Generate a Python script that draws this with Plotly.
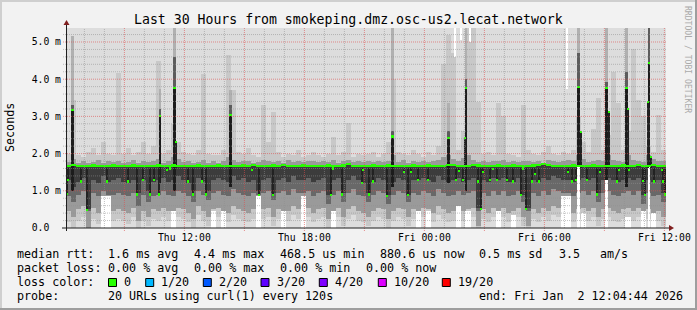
import numpy as np
import pandas as pd
import plotly.graph_objects as go

FONT = "DejaVu Sans Mono"
START = pd.Timestamp("2026-01-01 06:04:44")
END = pd.Timestamp("2026-01-02 12:04:44")
STEP_MIN = 15          # one smoke column = 15 minutes
Y_TOP = 5.376          # ms

# ---------------- data (values in milliseconds) ----------------
# median rtt per 15-minute column
median = [
    1.66, 1.69, 1.67, 1.66, 1.67, 1.68, 1.67, 1.66, 1.67, 1.68,
    1.67, 1.66, 1.67, 1.68, 1.67, 1.66, 1.67, 1.67, 1.68, 1.66,
    1.67, 1.68, 1.67, 1.66, 1.67, 1.67, 1.68, 1.67, 1.66, 1.67,
    1.68, 1.67, 1.67, 1.66, 1.67, 1.68, 1.67, 1.70, 1.67, 1.66,
    1.67, 1.68, 1.67, 1.70, 1.67, 1.66, 1.67, 1.68, 1.67, 1.66,
    1.67, 1.66, 1.68, 1.67, 1.67, 1.68, 1.71, 1.67, 1.66, 1.67,
    1.67, 1.68, 1.66, 1.67, 1.68, 1.67, 1.66, 1.67, 1.67, 1.68,
    1.66, 1.67, 1.68, 1.67, 1.66, 1.67, 1.70, 1.69, 1.67, 1.67,
    1.67, 1.70, 1.68, 1.67, 1.66, 1.67, 1.68, 1.66, 1.67, 1.68,
    1.67, 1.66, 1.67, 1.68, 1.70, 1.71, 1.70, 1.67, 1.66, 1.67,
    1.67, 1.68, 1.67, 1.66, 1.67, 1.68, 1.67, 1.66, 1.67, 1.66,
    1.67, 1.68, 1.66, 1.67, 1.70, 1.67, 1.66, 1.69, 1.67, 1.66,
]
# lowest ping (white canvas below)
smoke_lo_a = [
    0, 0, 0, 0, 0, 0, 0, 0.85, 0.85, 0,
    0, 0, 0, 0, 0, 0, 0, 0, 0, 0,
    0, 0.45, 0, 0, 0, 0, 0, 0, 0, 0.45,
    0, 0.45, 0, 0, 0, 0, 0, 0, 0.85, 0,
    0, 0, 0, 0.45, 0, 0, 0, 0.85, 0, 0,
    0, 0, 0, 0.45, 0, 0, 0, 0, 0, 0,
    0, 0, 0, 0, 0, 0, 0, 0, 0, 0,
    0.45, 0, 0.45, 0, 0, 0, 0, 0, 0.60, 0,
    0.45, 0, 0, 0, 0, 0, 0.45, 0, 0, 0.35,
    0, 0, 0, 0, 0, 0, 0, 0, 0, 0.85,
    0.85, 0, 0, 0.40, 0, 0, 0, 0, 0, 0,
    0, 0, 0.30, 0, 0, 0.45, 0, 0.40, 0, 0,
]
smoke_lo_b = [
    0.15, 0.00, 0.20, 0.30, 0.00, 0.25, 0.10, 0.85, 0.85, 0.20,
    0.25, 0.20, 0.10, 0.30, 0.00, 0.20, 0.05, 0.25, 0.20, 0.30,
    0.20, 0.45, 0.30, 0.25, 0.15, 0.00, 0.35, 0.20, 0.05, 0.45,
    0.30, 0.45, 0.15, 0.35, 0.25, 0.20, 0.15, 0.25, 0.85, 0.25,
    0.30, 0.05, 0.25, 0.45, 0.20, 0.35, 0.25, 0.85, 0.30, 0.15,
    0.25, 0.30, 0.00, 0.45, 0.30, 0.05, 0.25, 0.35, 0.20, 0.15,
    0.05, 0.20, 0.30, 0.25, 0.00, 0.20, 0.30, 0.25, 0.05, 0.25,
    0.45, 0.30, 0.45, 0.15, 0.35, 0.25, 0.15, 0.20, 0.60, 0.20,
    0.45, 0.30, 0.00, 0.25, 0.15, 0.30, 0.45, 0.30, 0.15, 0.35,
    0.30, 0.05, 0.00, 0.25, 0.15, 0.30, 0.20, 0.35, 0.30, 0.85,
    0.85, 0.15, 0.25, 0.40, 0.20, 0.30, 0.05, 0.25, 0.30, 0.20,
    0.15, 0.25, 0.30, 0.20, 0.30, 0.45, 0.25, 0.40, 0.20, 0.05,
]
smoke_lo_c = [
    0.45, 0.30, 0.50, 0.60, 0.00, 0.55, 0.40, 0.85, 0.85, 0.45,
    0.50, 0.45, 0.40, 0.55, 0.20, 0.45, 0.30, 0.50, 0.45, 0.55,
    0.45, 0.45, 0.55, 0.50, 0.40, 0.25, 0.60, 0.45, 0.30, 0.50,
    0.55, 0.45, 0.40, 0.60, 0.50, 0.45, 0.40, 0.50, 0.85, 0.50,
    0.55, 0.30, 0.50, 0.45, 0.45, 0.60, 0.50, 0.85, 0.55, 0.40,
    0.50, 0.55, 0.25, 0.45, 0.55, 0.30, 0.50, 0.60, 0.45, 0.40,
    0.30, 0.45, 0.55, 0.50, 0.25, 0.45, 0.55, 0.50, 0.30, 0.50,
    0.45, 0.55, 0.50, 0.40, 0.60, 0.50, 0.40, 0.45, 0.60, 0.45,
    0.50, 0.55, 0.05, 0.50, 0.40, 0.55, 0.45, 0.55, 0.40, 0.45,
    0.55, 0.30, 0.05, 0.50, 0.40, 0.55, 0.45, 0.60, 0.55, 0.85,
    0.85, 0.40, 0.50, 0.55, 0.45, 0.55, 0.30, 0.50, 0.55, 0.45,
    0.40, 0.50, 0.55, 0.45, 0.55, 0.45, 0.50, 0.40, 0.45, 0.30,
]
smoke_lo_d = [
    0.85, 0.70, 0.90, 1.00, 0.45, 0.95, 0.85, 1.00, 0.90, 0.90,
    0.95, 0.90, 0.85, 0.95, 0.60, 0.90, 0.70, 0.85, 0.90, 1.00,
    0.90, 0.85, 1.00, 0.95, 0.85, 0.70, 1.00, 0.90, 0.75, 0.95,
    1.00, 0.90, 0.85, 1.05, 0.95, 0.90, 0.85, 0.95, 0.90, 0.95,
    1.00, 0.75, 0.95, 1.00, 0.90, 1.05, 0.95, 0.95, 1.00, 0.85,
    0.95, 1.00, 0.65, 0.90, 1.00, 0.70, 0.95, 1.05, 0.90, 0.85,
    0.70, 0.90, 1.00, 0.95, 0.65, 0.90, 1.00, 0.95, 0.70, 0.95,
    0.90, 1.00, 0.95, 0.85, 1.05, 0.95, 0.85, 0.90, 1.00, 0.90,
    0.95, 1.00, 0.45, 0.95, 0.85, 1.00, 0.90, 1.00, 0.85, 0.90,
    1.00, 0.70, 0.45, 0.95, 0.85, 1.00, 0.90, 1.05, 1.00, 0.95,
    0.95, 0.85, 0.95, 1.00, 0.90, 1.00, 0.70, 0.95, 1.00, 0.90,
    0.85, 0.95, 1.00, 0.90, 1.00, 0.65, 0.95, 0.85, 0.90, 0.70,
]
smoke_lo_e = [
    1.30, 1.10, 1.25, 1.35, 0.50, 1.30, 1.20, 1.40, 1.25, 1.30,
    1.35, 1.25, 1.20, 1.30, 0.95, 1.30, 1.00, 1.25, 1.30, 1.35,
    1.25, 1.30, 1.40, 1.30, 1.20, 1.00, 1.35, 1.25, 1.00, 1.30,
    1.35, 1.30, 1.25, 1.40, 1.30, 1.35, 1.25, 1.30, 1.00, 1.30,
    1.35, 0.95, 1.30, 1.35, 1.25, 1.40, 1.30, 1.30, 1.35, 1.25,
    1.30, 1.35, 0.90, 1.30, 1.35, 0.95, 1.30, 1.40, 1.30, 1.20,
    0.95, 1.25, 1.35, 1.30, 0.90, 1.25, 1.35, 1.30, 0.90, 1.30,
    1.30, 1.35, 1.30, 1.25, 1.40, 1.30, 1.25, 1.30, 1.35, 1.25,
    1.30, 1.35, 0.55, 1.30, 1.25, 1.35, 1.30, 1.35, 1.25, 1.25,
    1.35, 0.90, 0.55, 1.30, 1.25, 1.35, 1.30, 1.40, 1.35, 1.30,
    1.30, 1.25, 1.30, 1.35, 1.30, 1.35, 0.95, 1.30, 1.35, 1.30,
    1.25, 1.30, 1.35, 1.30, 1.35, 0.90, 1.30, 1.25, 1.30, 0.95,
]
smoke_hi_c = [
    1.78, 1.85, 1.76, 1.80, 1.75, 1.78, 1.82, 1.76, 1.79, 1.77,
    1.80, 1.76, 1.78, 1.83, 1.75, 1.79, 1.77, 1.81, 1.85, 1.76,
    1.79, 1.90, 1.85, 1.77, 1.80, 1.76, 1.78, 1.82, 1.75, 1.79,
    1.76, 1.80, 1.90, 1.82, 1.77, 1.79, 1.81, 1.76, 1.78, 1.83,
    1.80, 1.77, 1.79, 1.76, 1.82, 1.78, 1.80, 1.77, 1.81, 1.79,
    1.77, 1.80, 1.78, 1.82, 1.76, 1.79, 1.84, 1.77, 1.80, 1.78,
    1.79, 1.77, 1.81, 1.78, 1.80, 1.95, 1.77, 1.82, 1.76, 1.80,
    1.78, 1.80, 1.77, 1.79, 1.83, 1.90, 1.95, 1.85, 1.80, 1.88,
    1.95, 1.82, 1.78, 1.80, 1.77, 1.81, 1.79, 1.83, 1.78, 1.80,
    1.77, 1.81, 1.79, 1.78, 1.80, 1.76, 1.82, 1.79, 1.77, 1.80,
    1.82, 1.79, 1.95, 1.85, 1.78, 1.80, 1.84, 1.81, 1.95, 1.83,
    1.80, 1.78, 1.95, 1.82, 1.80, 1.77, 1.95, 1.85, 1.79, 1.80,
]
smoke_hi_b = [
    2.00, 3.45, 1.95, 1.90, 2.05, 2.15, 1.95, 2.30, 2.00, 1.95,
    4.16, 2.00, 2.15, 1.95, 2.05, 2.30, 2.00, 2.20, 4.50, 2.00,
    2.10, 2.80, 2.30, 2.05, 2.00, 1.95, 2.10, 4.14, 2.00, 1.95,
    1.95, 2.10, 4.65, 3.70, 2.05, 2.00, 2.15, 1.95, 1.90, 3.30,
    2.30, 3.12, 2.05, 1.90, 2.00, 1.95, 2.10, 1.90, 1.95, 2.05,
    1.95, 1.90, 2.00, 2.45, 1.95, 2.05, 2.83, 1.90, 2.00, 1.95,
    2.00, 2.05, 1.90, 2.00, 2.30, 4.00, 2.05, 2.00, 1.95, 2.10,
    2.00, 1.90, 2.05, 1.95, 2.20, 4.40, 5.20, 4.70, 2.10, 2.60,
    5.40, 5.40, 3.40, 2.00, 2.05, 1.95, 3.37, 3.00, 2.00, 1.95,
    1.90, 3.30, 2.10, 2.00, 1.95, 2.05, 2.20, 2.00, 1.95, 2.05,
    2.00, 2.10, 3.00, 2.30, 2.05, 2.65, 3.50, 2.10, 2.50, 4.20,
    3.37, 2.10, 2.60, 4.80, 3.45, 3.00, 2.20, 2.05, 3.05, 2.10,
]

# latency spikes (narrow columns)
spike_times = ["2026-01-01 06:25", "2026-01-01 10:47", "2026-01-01 11:30", "2026-01-01 14:19",
               "2026-01-01 22:25", "2026-01-02 01:12", "2026-01-02 02:05", "2026-01-02 07:42",
               "2026-01-02 09:07", "2026-01-02 10:07", "2026-01-02 11:14"]
spike_median = [3.16, 3.01, 3.76, 3.04, 2.46, 2.41, 3.76, 3.78, 3.76, 3.76, 4.44]
spike_low = [1.00, 1.20, 1.00, 1.10, 1.10, 1.20, 1.00, 1.65, 1.30, 1.10, 1.70]
spike_mid = [3.30, 3.20, 4.60, 3.30, 2.60, 2.60, 4.00, 4.70, 3.93, 4.20, 5.40]
spike_top = [5.15, 3.74, 5.40, 3.70, 5.40, 3.36, 5.40, 5.40, 5.40, 5.40, 5.40]
spike_floor = [0, 0, 0.45, 0, 0, 0, 0.45, 1.65, 1.30, 0.30, 1.70]

# individual median excursions (short dips / steps)
exc_times = [
    "2026-01-01 06:09", "2026-01-01 06:12", "2026-01-01 06:49", "2026-01-01 07:07", "2026-01-01 08:07",
    "2026-01-01 09:12", "2026-01-01 09:39", "2026-01-01 09:57", "2026-01-01 10:17", "2026-01-01 10:29",
    "2026-01-01 10:44", "2026-01-01 11:09", "2026-01-01 11:17", "2026-01-01 11:35", "2026-01-01 12:12",
    "2026-01-01 12:25", "2026-01-01 12:52", "2026-01-01 13:04", "2026-01-01 15:22", "2026-01-01 15:44",
    "2026-01-01 16:27", "2026-01-01 19:19", "2026-01-01 19:26", "2026-01-01 19:52", "2026-01-01 20:52",
    "2026-01-01 20:57", "2026-01-01 21:15", "2026-01-01 21:25", "2026-01-01 22:07", "2026-01-01 22:59",
    "2026-01-01 23:12", "2026-01-01 23:20", "2026-01-01 23:42", "2026-01-02 00:10", "2026-01-02 01:34",
    "2026-01-02 01:43", "2026-01-02 01:57", "2026-01-02 02:03", "2026-01-02 02:42", "2026-01-02 02:49",
    "2026-01-02 02:55", "2026-01-02 03:17", "2026-01-02 03:26", "2026-01-02 03:37", "2026-01-02 04:07",
    "2026-01-02 04:25", "2026-01-02 04:50", "2026-01-02 04:56", "2026-01-02 05:05", "2026-01-02 05:22",
    "2026-01-02 05:32", "2026-01-02 05:45", "2026-01-02 07:12", "2026-01-02 07:22", "2026-01-02 07:35",
    "2026-01-02 07:49", "2026-01-02 08:07", "2026-01-02 08:39", "2026-01-02 08:47", "2026-01-02 09:13",
    "2026-01-02 09:39", "2026-01-02 09:44", "2026-01-02 10:11", "2026-01-02 10:15", "2026-01-02 10:57",
    "2026-01-02 11:02", "2026-01-02 11:11", "2026-01-02 11:19", "2026-01-02 11:30", "2026-01-02 11:52",
    "2026-01-02 11:57", "2026-01-02 12:02"]
exc_values = [
    0.92, 1.30, 1.25, 0.48, 1.25,
    1.25, 0.90, 1.30, 0.90, 1.30,
    0.90, 1.55, 1.60, 2.30, 1.25,
    0.90, 1.25, 0.90, 1.55, 0.88,
    0.88, 0.88, 1.60, 0.90, 1.20,
    1.55, 0.90, 1.25, 0.87, 1.50,
    0.88, 1.50, 1.30, 1.30, 1.28,
    1.52, 1.30, 2.42, 1.25, 0.50,
    1.50, 1.30, 1.58, 1.30, 1.28,
    1.25, 0.88, 1.60, 0.50, 1.25,
    1.45, 1.25, 1.50, 1.25, 1.30,
    2.57, 1.30, 0.90, 1.50, 3.12,
    1.25, 1.55, 3.20, 1.55, 1.26,
    0.88, 3.39, 1.92, 1.25, 1.55,
    1.25, 0.90]

# columns where the highest ping stayed below the graph top
gap_times = ["2026-01-02 01:33", "2026-01-02 01:50", "2026-01-02 02:18", "2026-01-02 07:08"]
gap_values = [4.60, 5.05, 5.00, 3.74]

x_tick_vals = ["2026-01-01 12:00", "2026-01-01 18:00", "2026-01-02 00:00",
               "2026-01-02 06:00", "2026-01-02 12:00"]
x_tick_text = ["Thu 12:00", "Thu 18:00", "Fri 00:00", "Fri 06:00", "Fri 12:00"]
y_tick_vals = [0, 1, 2, 3, 4, 5]
y_tick_text = ["0.0\u00a0\u00a0", "1.0 m", "2.0 m", "3.0 m", "4.0 m", "5.0 m"]

loss_labels = ["0", "1/20", "2/20", "3/20", "4/20", "10/20", "19/20"]
loss_colors = ["#26ff00", "#00b8ff", "#0059ff", "#5e00ff", "#7e00ff", "#dd00ff", "#ff0000"]

title_text = "Last 30 Hours from smokeping.dmz.osc-us2.lecat.network"
rtt_parts = ["median rtt:", "1.6 ms avg", "4.4 ms max", "468.5 us min", "880.6 us now",
             "0.5 ms sd", "3.5", "am/s"]
loss_parts = ["packet loss:", "0.00 % avg", "0.00 % max", "0.00 % min", "0.00 % now"]
probe_parts = ["probe:", "20 URLs using curl(1) every 120s", "end: Fri Jan\u00a0\u00a02 12:04:44 2026"]

# ---------------- layout geometry ----------------
W, H = 697, 310
PL, PT, PW, PH = 66, 28, 600, 200


def fx(px):
    return (px - PL) / PW


def fy(py):
    return (PT + PH - py) / PH


N = len(median)
col_x = START + pd.to_timedelta((np.arange(N) + 0.5) * STEP_MIN, unit="min")
COL_W = STEP_MIN * 60 * 1000
SPIKE_W = 8 * 60 * 1000
EXC_W = 6 * 60 * 1000


def band(x, lo, hi, color, width):
    lo = list(lo)
    hi = list(hi)
    return go.Bar(x=x, base=lo, y=[max(h - l, 0) for l, h in zip(lo, hi)], width=width,
                  marker=dict(color=color, line=dict(width=0)), hoverinfo="skip",
                  showlegend=False)


fig = go.Figure()
top_list = [Y_TOP + 0.1] * N
# smoke bands, outermost (lightest) first
fig.add_trace(band(col_x, smoke_lo_a, top_list, "#dddddd", COL_W))
fig.add_trace(band(col_x, smoke_lo_b, smoke_hi_b, "#c8c8c8", COL_W))
fig.add_trace(band(col_x, smoke_lo_c, smoke_hi_c, "#9a9a9a", COL_W))
fig.add_trace(band(col_x, smoke_lo_d, median, "#686868", COL_W))
fig.add_trace(band(col_x, smoke_lo_e, median, "#3c3c3c", COL_W))

# top gaps (max ping below graph top)
sp_x = pd.to_datetime(spike_times)
fig.add_trace(band(pd.to_datetime(gap_times), gap_values, [Y_TOP + 0.1] * len(gap_values), "#ffffff", EXC_W))

# spikes
fig.add_trace(band(sp_x, spike_median, spike_top, "#b0b0b0", SPIKE_W))
fig.add_trace(band(sp_x, spike_median, spike_mid, "#5c5c5c", SPIKE_W))
fig.add_trace(band(sp_x, [0] * len(spike_floor), spike_floor, "#ffffff", SPIKE_W))
fig.add_trace(band(sp_x, spike_low, spike_median, "#1c1c1c", SPIKE_W))

# excursions: dark stroke between the excursion and the main median band
ex_x = pd.to_datetime(exc_times)
ex_lo = [min(v, 1.62) for v in exc_values]
ex_hi = [max(v, 1.62) for v in exc_values]
fig.add_trace(band(ex_x, ex_lo, ex_hi, "#222222", EXC_W))

# median (loss colour = 0 loss -> green)
HALF = 0.028
fig.add_trace(band(col_x, [m - HALF for m in median], [m + HALF for m in median], "#26ff00", COL_W))
fig.add_trace(band(sp_x, [m - HALF for m in spike_median], [m + HALF for m in spike_median], "#26ff00", SPIKE_W))
fig.add_trace(band(ex_x, [v - HALF for v in exc_values], [v + HALF for v in exc_values], "#26ff00", EXC_W))

shapes = []
# grid (drawn above the data like rrdtool)
MINOR = "rgba(143,143,143,0.55)"
MAJOR = "rgba(222,79,79,0.6)"
hours = pd.date_range("2026-01-01 07:00", "2026-01-02 12:00", freq="h")
for h in hours:
    major = h.hour % 3 == 0
    shapes.append(dict(type="line", xref="x", yref="paper", x0=h, x1=h,
                       y0=fy(231) if major else 0, y1=1, layer="above",
                       line=dict(color=MAJOR if major else MINOR, width=1, dash="1px,1px")))
for k in range(1, 27):
    v = k * 0.2
    major = k % 5 == 0
    shapes.append(dict(type="line", xref="paper", yref="y", x0=fx(63), x1=1, y0=v, y1=v,
                       layer="above",
                       line=dict(color=MAJOR if major else MINOR, width=1, dash="1px,1px")))

# axes with arrows
AXIS = "#1f1f1f"
ARROW = "#801f1f"
shapes.append(dict(type="line", xref="paper", yref="paper", x0=fx(62), x1=fx(669),
                   y0=fy(228), y1=fy(228), line=dict(color=AXIS, width=1), layer="above"))
shapes.append(dict(type="line", xref="paper", yref="paper", x0=fx(66.5), x1=fx(66.5),
                   y0=fy(231), y1=fy(24), line=dict(color=AXIS, width=1), layer="above"))
shapes.append(dict(type="path", xref="paper", yref="paper", layer="above",
                   path=f"M {fx(669)} {fy(225)} L {fx(674)} {fy(228)} L {fx(669)} {fy(231)} Z",
                   fillcolor=ARROW, line=dict(color=ARROW, width=0)))
shapes.append(dict(type="path", xref="paper", yref="paper", layer="above",
                   path=f"M {fx(63.5)} {fy(25)} L {fx(66.5)} {fy(20)} L {fx(69.5)} {fy(25)} Z",
                   fillcolor=ARROW, line=dict(color=ARROW, width=0)))

# 3D frame
shapes.append(dict(type="rect", xref="paper", yref="paper", x0=fx(0), x1=fx(W), y0=fy(0), y1=fy(2),
                   fillcolor="#cfcfcf", line=dict(width=0), layer="below"))
shapes.append(dict(type="rect", xref="paper", yref="paper", x0=fx(0), x1=fx(2), y0=fy(0), y1=fy(H),
                   fillcolor="#cfcfcf", line=dict(width=0), layer="below"))
shapes.append(dict(type="rect", xref="paper", yref="paper", x0=fx(0), x1=fx(W), y0=fy(H - 2), y1=fy(H),
                   fillcolor="#9e9e9e", line=dict(width=0), layer="below"))
shapes.append(dict(type="rect", xref="paper", yref="paper", x0=fx(W - 2), x1=fx(W), y0=fy(0), y1=fy(H),
                   fillcolor="#9e9e9e", line=dict(width=0), layer="below"))

annotations = []


def txt(s, x, y, size=11.7, anchor="left", color="#000000", angle=0):
    annotations.append(dict(text=s, x=fx(x), y=fy(y), xref="paper", yref="paper",
                            xanchor=anchor, yanchor="middle", showarrow=False,
                            textangle=angle, borderpad=0,
                            font=dict(family=FONT, size=size, color=color)))


txt(title_text, 348, 19, size=13.2, anchor="center")
txt("Seconds", 10, 128, size=11.7, anchor="center", angle=-90)
txt("RRDTOOL / TOBI OETIKER", 688, 59, size=8.1, anchor="center", color="#aaaaaa", angle=90)

for s, x in zip(rtt_parts, [16, 107.3, 193.3, 279.3, 379.3, 477.5, 557.5, 599.3]):
    txt(s, x, 254)
for s, x in zip(loss_parts, [16, 107.3, 193.3, 279.3, 365]):
    txt(s, x, 268)
txt("loss color:", 16, 282)
sq_x = [108.5, 145.7, 203.3, 261, 319.3, 378.3, 442.3]
lab_x = [123.3, 160, 218.3, 276, 334, 392.7, 457.3]
for lab, col, sx, lx in zip(loss_labels, loss_colors, sq_x, lab_x):
    shapes.append(dict(type="rect", xref="paper", yref="paper", x0=fx(sx), x1=fx(sx + 8),
                       y0=fy(278.5), y1=fy(286.5), fillcolor=col,
                       line=dict(color="#000000", width=1)))
    txt(lab, lx, 282)
for s, x in zip(probe_parts, [16, 107.3, 478.3]):
    txt(s, x, 296)

fig.update_layout(
    width=W, height=H,
    margin=dict(l=PL, r=W - PL - PW, t=PT, b=H - PT - PH, pad=0, autoexpand=False),
    paper_bgcolor="#f2f2f2", plot_bgcolor="#ffffff",
    barmode="overlay", bargap=0,
    showlegend=False,
    shapes=shapes, annotations=annotations,
    xaxis=dict(type="date", range=[START, END], showgrid=False, zeroline=False,
               tickvals=x_tick_vals, ticktext=x_tick_text, ticks="",
               tickfont=dict(family=FONT, size=9.75, color="#000000"), showline=False,
               ticklabelstandoff=2, fixedrange=True),
    yaxis=dict(range=[0, Y_TOP], showgrid=False, zeroline=False,
               tickvals=y_tick_vals, ticktext=y_tick_text, ticks="",
               tickfont=dict(family=FONT, size=9.75, color="#000000"), showline=False,
               ticklabelstandoff=4, fixedrange=True),
)

fig.write_html("out.html", config={"displayModeBar": False})
